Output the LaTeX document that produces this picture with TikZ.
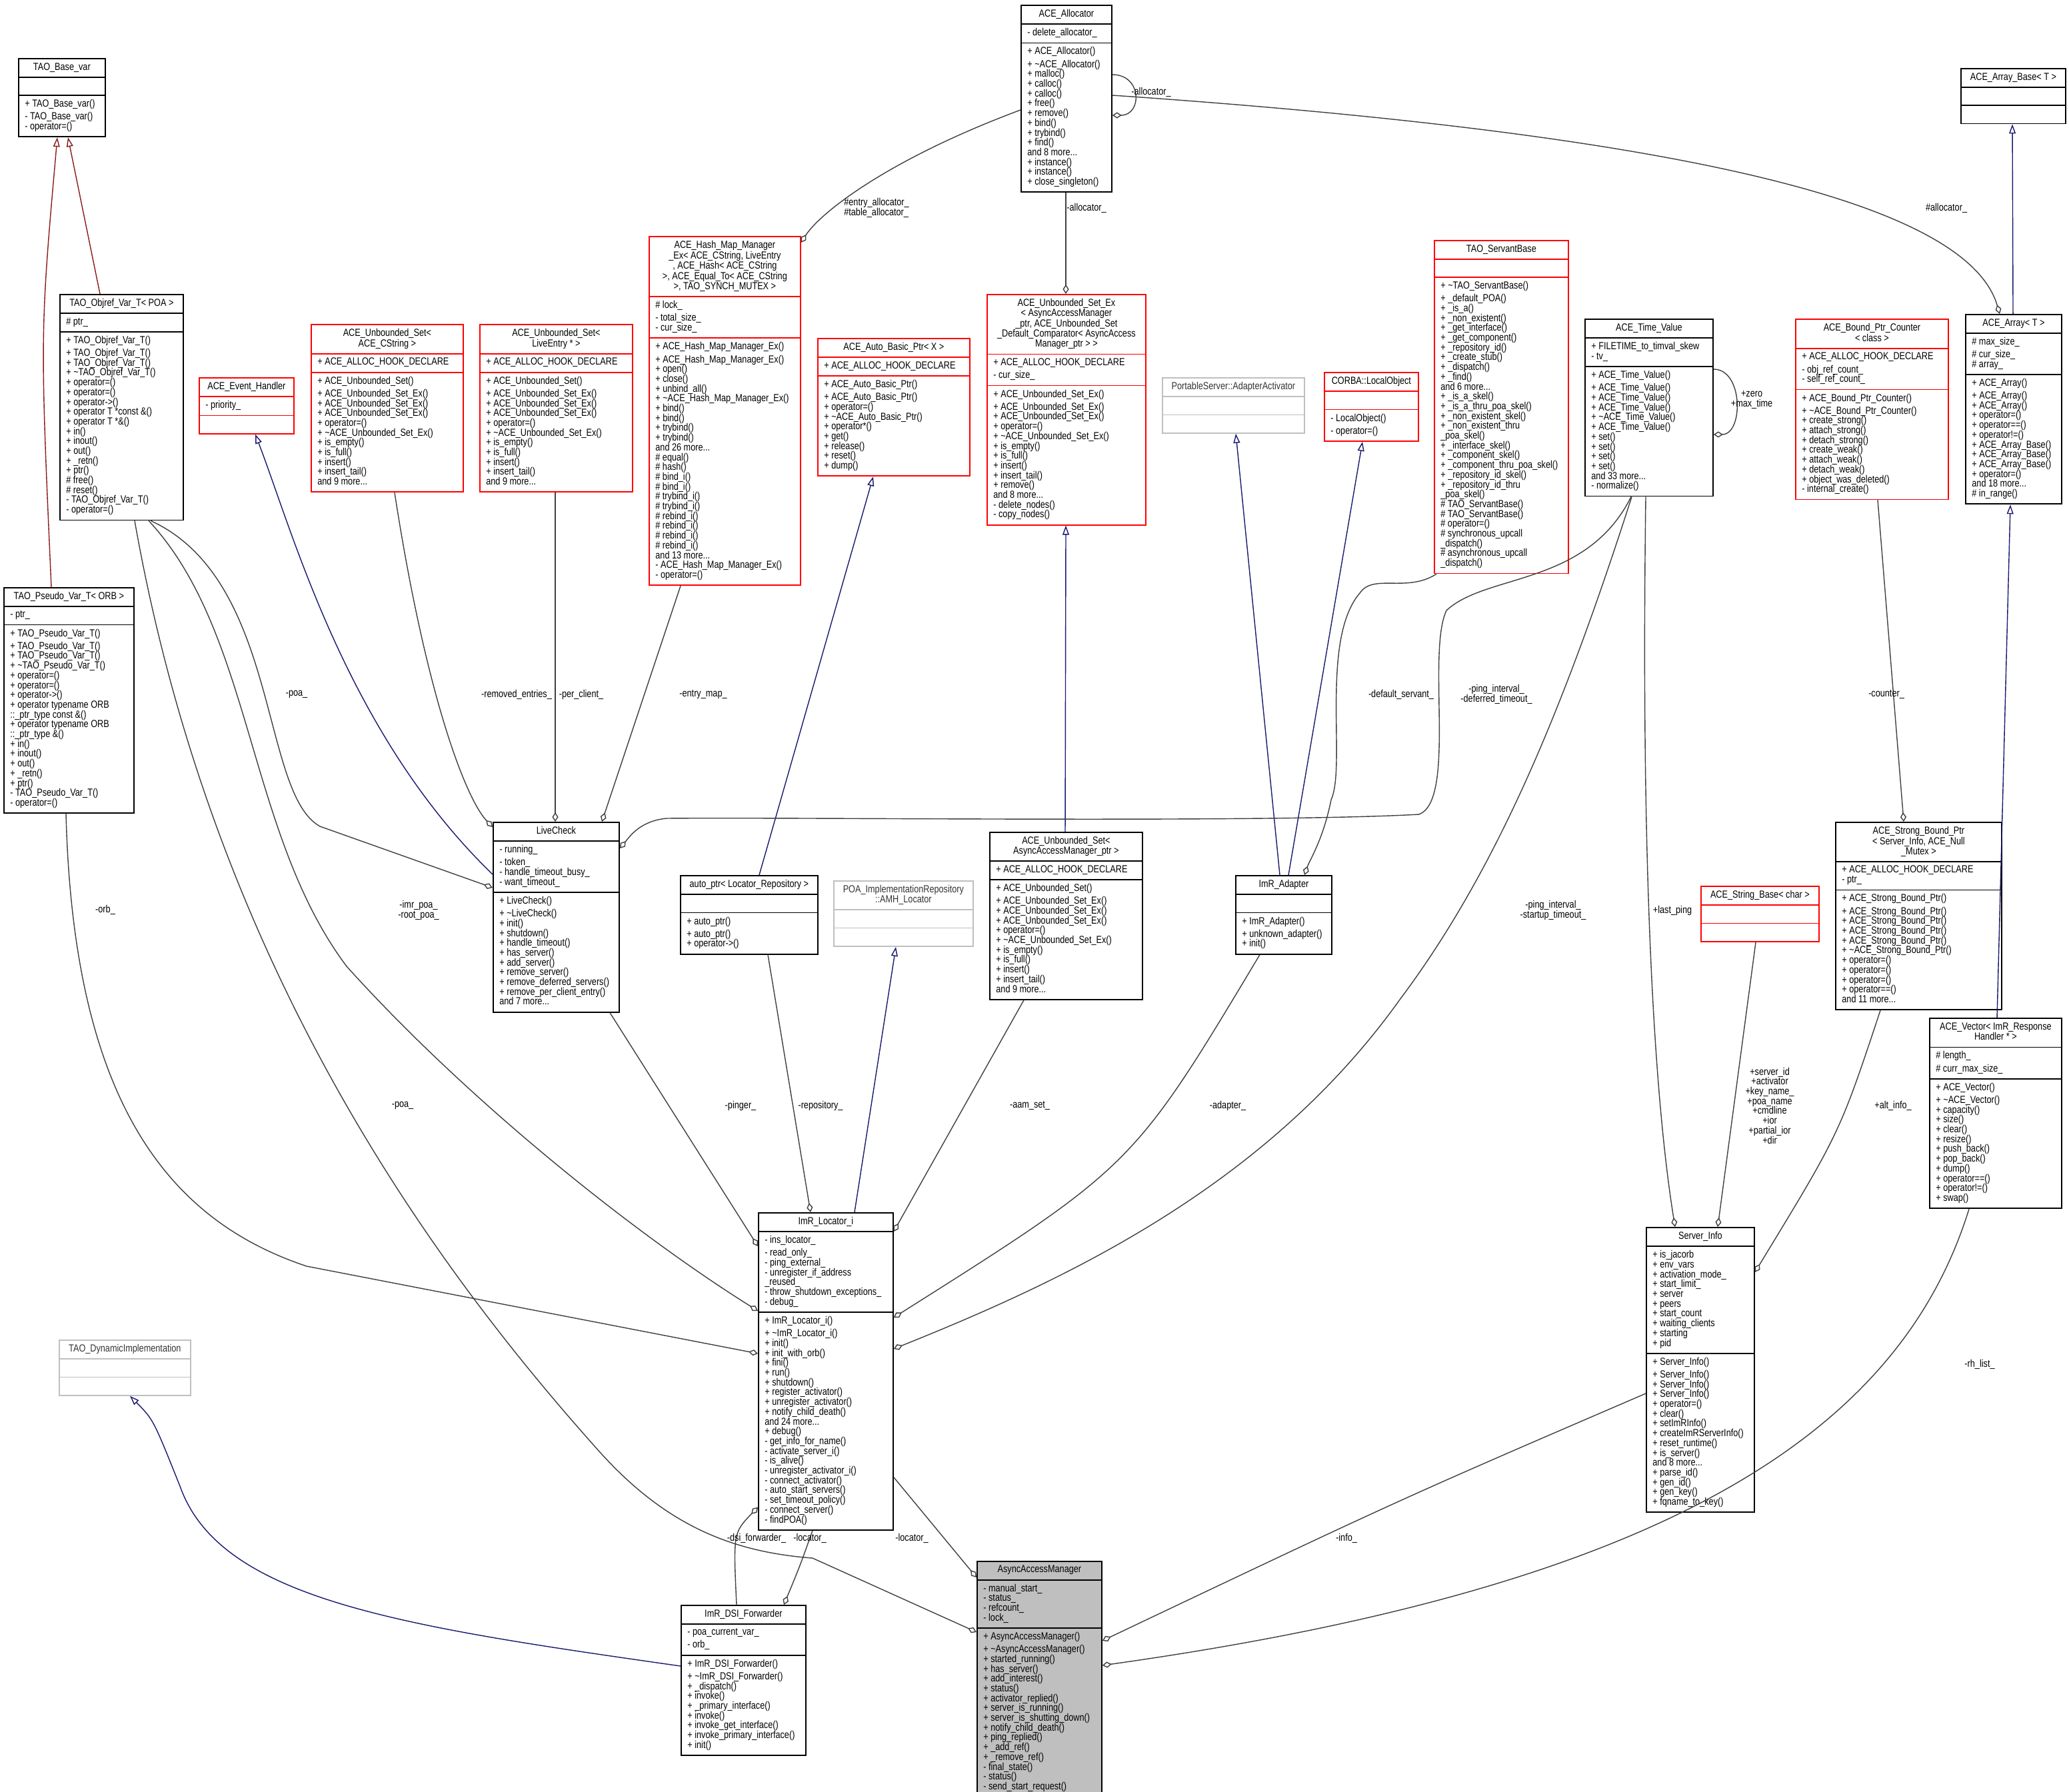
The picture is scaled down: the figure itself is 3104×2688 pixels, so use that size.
\documentclass[tikz,border=0pt]{standalone}
\usepackage{fontspec}
\setmainfont[FakeStretch=0.82]{Liberation Sans}
\usetikzlibrary{shapes.multipart,arrows.meta,calc}

\definecolor{edgegray}{RGB}{64,64,64}
\definecolor{inhblue}{RGB}{25,25,112}
\definecolor{inhred}{RGB}{139,26,26}
\definecolor{boxgray}{RGB}{191,191,191}

\tikzset{
  umlclass/.style={rectangle split, rectangle split parts=3, draw=black, line width=0.5pt,
    anchor=north west, inner xsep=2.7pt, inner ysep=1.55pt, align=left,
    rectangle split part align={center,left,left},
    font=\fontsize{4.4}{4.18}\selectfont},
  redbox/.style={draw=red},
  graybox/.style={draw=boxgray, text=black!80},
  usedge/.style={draw=edgegray, line width=0.4pt, -{Diamond[open,length=4pt,width=2.6pt]}},
  inhedge/.style={draw=inhblue, line width=0.4pt, -{Triangle[open,length=4pt,width=2.8pt]}},
  inhredge/.style={draw=inhred, line width=0.4pt, -{Triangle[open,length=4pt,width=2.8pt]}},
  elabel/.style={font=\fontsize{4.4}{4.18}\selectfont, align=center, inner sep=0pt}
}
\renewcommand{\arraystretch}{1}

\newcommand{\umlbox}[8]{%
  \node[umlclass,#5,minimum width=#4*0.01cm] (#1) at (#2,#3)
    {\begin{tabular}{@{}c@{}}#6\end{tabular}\nodepart{two}\strut#7\strut\nodepart{three}\strut#8\strut};}

\begin{document}
\begin{tikzpicture}[x=0.01cm,y=-0.01cm]
\useasboundingbox (0,0) rectangle (3104,2688);

% classes
\umlbox{basevar}{27}{87}{130}{}{TAO\_Base\_var}{}{+ TAO\_Base\_var()\\- TAO\_Base\_var()\\- operator=()}
\umlbox{objref}{89}{441}{185}{}{TAO\_Objref\_Var\_T\textless{} POA \textgreater}{\# ptr\_}{+ TAO\_Objref\_Var\_T()\\+ TAO\_Objref\_Var\_T()\\+ TAO\_Objref\_Var\_T()\\+ \textasciitilde TAO\_Objref\_Var\_T()\\+ operator=()\\+ operator=()\\+ operator-\textgreater()\\+ operator T *const \&()\\+ operator T *\&()\\+ in()\\+ inout()\\+ out()\\+ \_retn()\\+ ptr()\\\# free()\\\# reset()\\- TAO\_Objref\_Var\_T()\\- operator=()}
\umlbox{pseudo}{5}{881}{195}{}{TAO\_Pseudo\_Var\_T\textless{} ORB \textgreater}{- ptr\_}{+ TAO\_Pseudo\_Var\_T()\\+ TAO\_Pseudo\_Var\_T()\\+ TAO\_Pseudo\_Var\_T()\\+ \textasciitilde TAO\_Pseudo\_Var\_T()\\+ operator=()\\+ operator=()\\+ operator-\textgreater()\\+ operator typename ORB\\::\_ptr\_type const \&()\\+ operator typename ORB\\::\_ptr\_type \&()\\+ in()\\+ inout()\\+ out()\\+ \_retn()\\+ ptr()\\- TAO\_Pseudo\_Var\_T()\\- operator=()}
\umlbox{evh}{298}{566}{142}{redbox}{ACE\_Event\_Handler}{- priority\_}{}
\umlbox{uscs}{466}{486}{228}{redbox}{ACE\_Unbounded\_Set\textless\\ACE\_CString \textgreater}{+ ACE\_ALLOC\_HOOK\_DECLARE}{+ ACE\_Unbounded\_Set()\\+ ACE\_Unbounded\_Set\_Ex()\\+ ACE\_Unbounded\_Set\_Ex()\\+ ACE\_Unbounded\_Set\_Ex()\\+ operator=()\\+ \textasciitilde ACE\_Unbounded\_Set\_Ex()\\+ is\_empty()\\+ is\_full()\\+ insert()\\+ insert\_tail()\\and 9 more...}
\umlbox{usle}{719}{486}{229}{redbox}{ACE\_Unbounded\_Set\textless\\LiveEntry * \textgreater}{+ ACE\_ALLOC\_HOOK\_DECLARE}{+ ACE\_Unbounded\_Set()\\+ ACE\_Unbounded\_Set\_Ex()\\+ ACE\_Unbounded\_Set\_Ex()\\+ ACE\_Unbounded\_Set\_Ex()\\+ operator=()\\+ \textasciitilde ACE\_Unbounded\_Set\_Ex()\\+ is\_empty()\\+ is\_full()\\+ insert()\\+ insert\_tail()\\and 9 more...}
\umlbox{hash}{973}{354}{227}{redbox}{ACE\_Hash\_Map\_Manager\\\_Ex\textless{} ACE\_CString, LiveEntry\\*, ACE\_Hash\textless{} ACE\_CString\\\textgreater, ACE\_Equal\_To\textless{} ACE\_CString\\\textgreater, TAO\_SYNCH\_MUTEX \textgreater}{\# lock\_\\- total\_size\_\\- cur\_size\_}{+ ACE\_Hash\_Map\_Manager\_Ex()\\+ ACE\_Hash\_Map\_Manager\_Ex()\\+ open()\\+ close()\\+ unbind\_all()\\+ \textasciitilde ACE\_Hash\_Map\_Manager\_Ex()\\+ bind()\\+ bind()\\+ trybind()\\+ trybind()\\and 26 more...\\\# equal()\\\# hash()\\\# bind\_i()\\\# bind\_i()\\\# trybind\_i()\\\# trybind\_i()\\\# rebind\_i()\\\# rebind\_i()\\\# rebind\_i()\\\# rebind\_i()\\and 13 more...\\- ACE\_Hash\_Map\_Manager\_Ex()\\- operator=()}
\umlbox{aubp}{1226}{507}{228}{redbox}{ACE\_Auto\_Basic\_Ptr\textless{} X \textgreater}{+ ACE\_ALLOC\_HOOK\_DECLARE}{+ ACE\_Auto\_Basic\_Ptr()\\+ ACE\_Auto\_Basic\_Ptr()\\+ operator=()\\+ \textasciitilde ACE\_Auto\_Basic\_Ptr()\\+ operator*()\\+ get()\\+ release()\\+ reset()\\+ dump()}
\umlbox{alloc}{1531}{7}{136}{}{ACE\_Allocator}{- delete\_allocator\_}{+ ACE\_Allocator()\\+ \textasciitilde ACE\_Allocator()\\+ malloc()\\+ calloc()\\+ calloc()\\+ free()\\+ remove()\\+ bind()\\+ trybind()\\+ find()\\and 8 more...\\+ instance()\\+ instance()\\+ close\_singleton()}
\umlbox{usex}{1480}{441}{238}{redbox}{ACE\_Unbounded\_Set\_Ex\\\textless{} AsyncAccessManager\\\_ptr, ACE\_Unbounded\_Set\\\_Default\_Comparator\textless{} AsyncAccess\\Manager\_ptr \textgreater{} \textgreater}{+ ACE\_ALLOC\_HOOK\_DECLARE\\- cur\_size\_}{+ ACE\_Unbounded\_Set\_Ex()\\+ ACE\_Unbounded\_Set\_Ex()\\+ ACE\_Unbounded\_Set\_Ex()\\+ operator=()\\+ \textasciitilde ACE\_Unbounded\_Set\_Ex()\\+ is\_empty()\\+ is\_full()\\+ insert()\\+ insert\_tail()\\+ remove()\\and 8 more...\\- delete\_nodes()\\- copy\_nodes()}
\umlbox{adact}{1743}{566}{213}{graybox}{PortableServer::AdapterActivator}{}{}
\umlbox{locobj}{1986}{558}{141}{redbox}{CORBA::LocalObject}{}{- LocalObject()\\- operator=()}
\umlbox{servb}{2151}{360}{201}{redbox}{TAO\_ServantBase}{}{+ \textasciitilde TAO\_ServantBase()\\+ \_default\_POA()\\+ \_is\_a()\\+ \_non\_existent()\\+ \_get\_interface()\\+ \_get\_component()\\+ \_repository\_id()\\+ \_create\_stub()\\+ \_dispatch()\\+ \_find()\\and 6 more...\\+ \_is\_a\_skel()\\+ \_is\_a\_thru\_poa\_skel()\\+ \_non\_existent\_skel()\\+ \_non\_existent\_thru\\\_poa\_skel()\\+ \_interface\_skel()\\+ \_component\_skel()\\+ \_component\_thru\_poa\_skel()\\+ \_repository\_id\_skel()\\+ \_repository\_id\_thru\\\_poa\_skel()\\\# TAO\_ServantBase()\\\# TAO\_ServantBase()\\\# operator=()\\\# synchronous\_upcall\\\_dispatch()\\\# asynchronous\_upcall\\\_dispatch()}
\umlbox{tv}{2377}{478}{192}{}{ACE\_Time\_Value}{+ FILETIME\_to\_timval\_skew\\- tv\_}{+ ACE\_Time\_Value()\\+ ACE\_Time\_Value()\\+ ACE\_Time\_Value()\\+ ACE\_Time\_Value()\\+ \textasciitilde ACE\_Time\_Value()\\+ ACE\_Time\_Value()\\+ set()\\+ set()\\+ set()\\+ set()\\and 33 more...\\- normalize()}
\umlbox{bpc}{2693}{478}{229}{redbox}{ACE\_Bound\_Ptr\_Counter\\\textless{} class \textgreater}{+ ACE\_ALLOC\_HOOK\_DECLARE\\- obj\_ref\_count\_\\- self\_ref\_count\_}{+ ACE\_Bound\_Ptr\_Counter()\\+ \textasciitilde ACE\_Bound\_Ptr\_Counter()\\+ create\_strong()\\+ attach\_strong()\\+ detach\_strong()\\+ create\_weak()\\+ attach\_weak()\\+ detach\_weak()\\+ object\_was\_deleted()\\- internal\_create()}
\umlbox{arrb}{2941}{102}{157}{}{ACE\_Array\_Base\textless{} T \textgreater}{}{}
\umlbox{arr}{2948}{471}{144}{}{ACE\_Array\textless{} T \textgreater}{\# max\_size\_\\\# cur\_size\_\\\# array\_}{+ ACE\_Array()\\+ ACE\_Array()\\+ ACE\_Array()\\+ operator=()\\+ operator==()\\+ operator!=()\\+ ACE\_Array\_Base()\\+ ACE\_Array\_Base()\\+ ACE\_Array\_Base()\\+ operator=()\\and 18 more...\\\# in\_range()}
\umlbox{livec}{739}{1233}{189}{}{LiveCheck}{- running\_\\- token\_\\- handle\_timeout\_busy\_\\- want\_timeout\_}{+ LiveCheck()\\+ \textasciitilde LiveCheck()\\+ init()\\+ shutdown()\\+ handle\_timeout()\\+ has\_server()\\+ add\_server()\\+ remove\_server()\\+ remove\_deferred\_servers()\\+ remove\_per\_client\_entry()\\and 7 more...}
\umlbox{autoptr}{1020}{1313}{206}{}{auto\_ptr\textless{} Locator\_Repository \textgreater}{}{+ auto\_ptr()\\+ auto\_ptr()\\+ operator-\textgreater()}
\umlbox{poaimpl}{1250}{1321}{209}{graybox}{POA\_ImplementationRepository\\::AMH\_Locator}{}{}
\umlbox{usaam}{1484}{1248}{229}{}{ACE\_Unbounded\_Set\textless\\AsyncAccessManager\_ptr \textgreater}{+ ACE\_ALLOC\_HOOK\_DECLARE}{+ ACE\_Unbounded\_Set()\\+ ACE\_Unbounded\_Set\_Ex()\\+ ACE\_Unbounded\_Set\_Ex()\\+ ACE\_Unbounded\_Set\_Ex()\\+ operator=()\\+ \textasciitilde ACE\_Unbounded\_Set\_Ex()\\+ is\_empty()\\+ is\_full()\\+ insert()\\+ insert\_tail()\\and 9 more...}
\umlbox{adapter}{1853}{1313}{144}{}{ImR\_Adapter}{}{+ ImR\_Adapter()\\+ unknown\_adapter()\\+ init()}
\umlbox{sbp}{2753}{1233}{249}{}{ACE\_Strong\_Bound\_Ptr\\\textless{} Server\_Info, ACE\_Null\\\_Mutex \textgreater}{+ ACE\_ALLOC\_HOOK\_DECLARE\\- ptr\_}{+ ACE\_Strong\_Bound\_Ptr()\\+ ACE\_Strong\_Bound\_Ptr()\\+ ACE\_Strong\_Bound\_Ptr()\\+ ACE\_Strong\_Bound\_Ptr()\\+ ACE\_Strong\_Bound\_Ptr()\\+ \textasciitilde ACE\_Strong\_Bound\_Ptr()\\+ operator=()\\+ operator=()\\+ operator=()\\+ operator==()\\and 11 more...}
\umlbox{strb}{2551}{1329}{177}{redbox}{ACE\_String\_Base\textless{} char \textgreater}{}{}
\umlbox{vec}{2894}{1527}{198}{}{ACE\_Vector\textless{} ImR\_Response\\Handler * \textgreater}{\# length\_\\\# curr\_max\_size\_}{+ ACE\_Vector()\\+ \textasciitilde ACE\_Vector()\\+ capacity()\\+ size()\\+ clear()\\+ resize()\\+ push\_back()\\+ pop\_back()\\+ dump()\\+ operator==()\\+ operator!=()\\+ swap()}
\umlbox{srv}{2469}{1841}{162}{}{Server\_Info}{+ is\_jacorb\\+ env\_vars\\+ activation\_mode\_\\+ start\_limit\_\\+ server\\+ peers\\+ start\_count\\+ waiting\_clients\\+ starting\\+ pid}{+ Server\_Info()\\+ Server\_Info()\\+ Server\_Info()\\+ Server\_Info()\\+ operator=()\\+ clear()\\+ setImRInfo()\\+ createImRServerInfo()\\+ reset\_runtime()\\+ is\_server()\\and 8 more...\\+ parse\_id()\\+ gen\_id()\\+ gen\_key()\\+ fqname\_to\_key()}
\umlbox{locator}{1137}{1819}{202}{}{ImR\_Locator\_i}{- ins\_locator\_\\- read\_only\_\\- ping\_external\_\\- unregister\_if\_address\\\_reused\_\\- throw\_shutdown\_exceptions\_\\- debug\_}{+ ImR\_Locator\_i()\\+ \textasciitilde ImR\_Locator\_i()\\+ init()\\+ init\_with\_orb()\\+ fini()\\+ run()\\+ shutdown()\\+ register\_activator()\\+ unregister\_activator()\\+ notify\_child\_death()\\and 24 more...\\+ debug()\\- get\_info\_for\_name()\\- activate\_server\_i()\\- is\_alive()\\- unregister\_activator\_i()\\- connect\_activator()\\- auto\_start\_servers()\\- set\_timeout\_policy()\\- connect\_server()\\- findPOA()}
\umlbox{dsi}{1021}{2408}{187}{}{ImR\_DSI\_Forwarder}{- poa\_current\_var\_\\- orb\_}{+ ImR\_DSI\_Forwarder()\\+ \textasciitilde ImR\_DSI\_Forwarder()\\+ \_dispatch()\\+ invoke()\\+ \_primary\_interface()\\+ invoke()\\+ invoke\_get\_interface()\\+ invoke\_primary\_interface()\\+ init()}
\umlbox{aam}{1465}{2342}{187}{fill=boxgray}{AsyncAccessManager}{- manual\_start\_\\- status\_\\- refcount\_\\- lock\_}{+ AsyncAccessManager()\\+ \textasciitilde AsyncAccessManager()\\+ started\_running()\\+ has\_server()\\+ add\_interest()\\+ status()\\+ activator\_replied()\\+ server\_is\_running()\\+ server\_is\_shutting\_down()\\+ notify\_child\_death()\\+ ping\_replied()\\+ \_add\_ref()\\+ \_remove\_ref()\\- final\_state()\\- status()\\- send\_start\_request()}
\umlbox{dynimpl}{88}{2010}{197}{graybox}{TAO\_DynamicImplementation}{}{}

% inheritance
\draw[inhredge] ($(objref.north west)+(61,0)$) -- ($(basevar.south west)+(75,0)$);
\draw[inhredge] ($(pseudo.north west)+(72,0)$) .. controls (60,500) .. ($(basevar.south west)+(59,0)$);
\draw[inhedge] ($(arr.north west)+(72,0)$) -- ($(arrb.south west)+(78,0)$);
\draw[inhedge] ($(vec.north west)+(102,0)$) -- ($(arr.south west)+(68,0)$);
\draw[inhedge] ($(livec.north west)+(0,79)$) .. controls (520,1100) and (440,800) .. ($(evh.south west)+(85,0)$);
\draw[inhedge] ($(usaam.north west)+(114,0)$) -- ($(usex.south west)+(119,0)$);
\draw[inhedge] ($(adapter.north west)+(67,0)$) -- ($(adact.south west)+(111,0)$);
\draw[inhedge] ($(adapter.north west)+(80,0)$) -- ($(locobj.south west)+(58,0)$);
\draw[inhedge] ($(autoptr.north west)+(119,0)$) -- ($(aubp.south west)+(84,0)$);
\draw[inhedge] ($(locator.north west)+(145,0)$) -- ($(poaimpl.south west)+(94,0)$);
\draw[inhedge] ($(dsi.north west)+(0,92)$) .. controls (600,2440) and (330,2400) .. (270,2230) .. controls (230,2130) .. ($(dynimpl.south west)+(107,0)$);

% usage
\draw[usedge] ($(alloc.north east)+(0,105)$) .. controls +(45,0) and +(45,0) .. ($(alloc.north east)+(0,166)$);
\draw[usedge] ($(alloc.north west)+(0,158)$) .. controls (1330,240) and (1230,320) .. ($(hash.north east)+(0,10)$);
\draw[usedge] ($(alloc.south west)+(68,0)$) -- ($(usex.north west)+(119,0)$);
\draw[usedge] ($(alloc.north east)+(0,136)$) .. controls (2500,200) and (2950,300) .. ($(arr.north west)+(52,0)$);
\draw[usedge] ($(tv.north east)+(0,76)$) .. controls +(45,0) and +(45,0) .. ($(tv.north east)+(0,174)$);
\draw[usedge] ($(objref.south west)+(137,0)$) .. controls (420,870) and (390,1190) .. (480,1240) -- ($(livec.north west)+(0,99)$);
\draw[usedge] ($(objref.south west)+(134,0)$) .. controls (380,950) and (370,1250) .. (520,1450) .. controls (700,1650) and (950,1850) .. ($(locator.north west)+(0,148)$);
\draw[usedge] ($(objref.south west)+(113,0)$) .. controls (320,1450) and (650,1900) .. (900,2179) .. controls (1000,2290) and (1100,2329) .. (1219,2338) -- ($(aam.north west)+(0,107)$);
\draw[usedge] ($(pseudo.south west)+(94,0)$) .. controls (110,1650) and (250,1830) .. (460,1900) -- ($(locator.north west)+(0,212)$);
\draw[usedge] ($(uscs.south west)+(126,0)$) .. controls (640,1050) and (700,1200) .. ($(livec.north west)+(0,8)$);
\draw[usedge] ($(usle.south west)+(114,0)$) -- ($(livec.north west)+(94,0)$);
\draw[usedge] ($(hash.south west)+(48,0)$) -- ($(livec.north west)+(164,0)$);
\draw[usedge] ($(tv.south west)+(70,0)$) .. controls (2380,880) and (2230,860) .. (2170,916) .. controls (2140,980) and (2185,1200) .. (2129,1222) .. controls (1900,1235) and (1200,1226) .. (1000,1228) .. controls (960,1232) and (945,1255) .. ($(livec.north east)+(0,40)$);
\draw[usedge] ($(servb.south west)+(4,0)$) .. controls (2110,890) and (2060,860) .. (2040,890) .. controls (1980,960) and (2020,1150) .. (1997,1200) .. controls (1985,1260) and (1965,1290) .. ($(adapter.north west)+(104,0)$);
\draw[usedge] ($(tv.south west)+(71,0)$) .. controls (2350,1050) and (2250,1300) .. (2100,1500) .. controls (1900,1780) and (1600,1920) .. ($(locator.north east)+(0,205)$);
\draw[usedge] ($(tv.south west)+(92,0)$) .. controls (2460,1400) and (2490,1700) .. ($(srv.north west)+(44,0)$);
\draw[usedge] ($(strb.south west)+(83,0)$) -- ($(srv.north west)+(108,0)$);
\draw[usedge] ($(bpc.south west)+(124,0)$) -- ($(sbp.north west)+(103,0)$);
\draw[usedge] ($(sbp.south west)+(68,0)$) .. controls (2760,1700) .. ($(srv.north east)+(0,68)$);
\draw[usedge] ($(srv.north west)+(0,250)$) .. controls (2100,2250) .. ($(aam.north east)+(0,120)$);
\draw[usedge] ($(vec.south west)+(60,0)$) .. controls (2850,2150) and (2500,2380) .. ($(aam.north east)+(0,157)$);
\draw[usedge] ($(livec.south west)+(176,0)$) -- ($(locator.north west)+(0,51)$);
\draw[usedge] ($(autoptr.south west)+(132,0)$) -- ($(locator.north west)+(79,0)$);
\draw[usedge] ($(usaam.south west)+(52,0)$) -- ($(locator.north east)+(0,29)$);
\draw[usedge] ($(adapter.south west)+(37,0)$) .. controls (1700,1750) .. ($(locator.north east)+(0,158)$);
\draw[usedge] ($(dsi.north west)+(84,0)$) .. controls (1100,2300) .. ($(locator.south west)+(0,-35)$);
\draw[usedge] ($(locator.south west)+(82,0)$) .. controls (1200,2350) .. ($(dsi.north west)+(155,0)$);
\draw[usedge] ($(locator.south east)+(0,-80)$) -- ($(aam.north west)+(0,25)$);

% labels
\node[elabel] (lallocself) at (1727,138) {-allocator\_};
\node[elabel,align=left] (lentry) at (1315,312) {\#entry\_allocator\_\\\#table\_allocator\_};
\node[elabel] (lallocusex) at (1630,312) {-allocator\_};
\node[elabel] (lallocarr) at (2920,312) {\#allocator\_};
\node[elabel] (lzero) at (2628,600) {+zero\\+max\_time};
\node[elabel] (lpoalive) at (445,1042) {-poa\_};
\node[elabel] (lremoved) at (775,1042) {-removed\_entries\_};
\node[elabel] (lperclient) at (872,1042) {-per\_client\_};
\node[elabel] (lentrymap) at (1055,1042) {-entry\_map\_};
\node[elabel] (ldefserv) at (2102,1042) {-default\_servant\_};
\node[elabel] (lpingdef) at (2245,1042) {-ping\_interval\_\\-deferred\_timeout\_};
\node[elabel] (lcounter) at (2830,1042) {-counter\_};
\node[elabel] (lorb) at (158,1365) {-orb\_};
\node[elabel] (limrpoa) at (628,1366) {-imr\_poa\_\\-root\_poa\_};
\node[elabel] (lpingstart) at (2330,1366) {-ping\_interval\_\\-startup\_timeout\_};
\node[elabel] (llastping) at (2509,1366) {+last\_ping};
\node[elabel] (lpoaaam) at (604,1659) {-poa\_};
\node[elabel] (lpinger) at (1111,1659) {-pinger\_};
\node[elabel] (lrepo) at (1231,1659) {-repository\_};
\node[elabel] (laamset) at (1545,1659) {-aam\_set\_};
\node[elabel] (ladapter) at (1842,1659) {-adapter\_};
\node[elabel] (lsrvids) at (2655,1659) {+server\_id\\+activator\\+key\_name\_\\+poa\_name\\+cmdline\\+ior\\+partial\_ior\\+dir};
\node[elabel] (laltinfo) at (2840,1659) {+alt\_info\_};
\node[elabel] (lrhlist) at (2970,2047) {-rh\_list\_};
\node[elabel] (ldsifwd) at (1135,2308) {-dsi\_forwarder\_};
\node[elabel] (llocdsi) at (1215,2308) {-locator\_};
\node[elabel] (llocaam) at (1368,2308) {-locator\_};
\node[elabel] (linfo) at (2020,2308) {-info\_};
\end{tikzpicture}
\end{document}
